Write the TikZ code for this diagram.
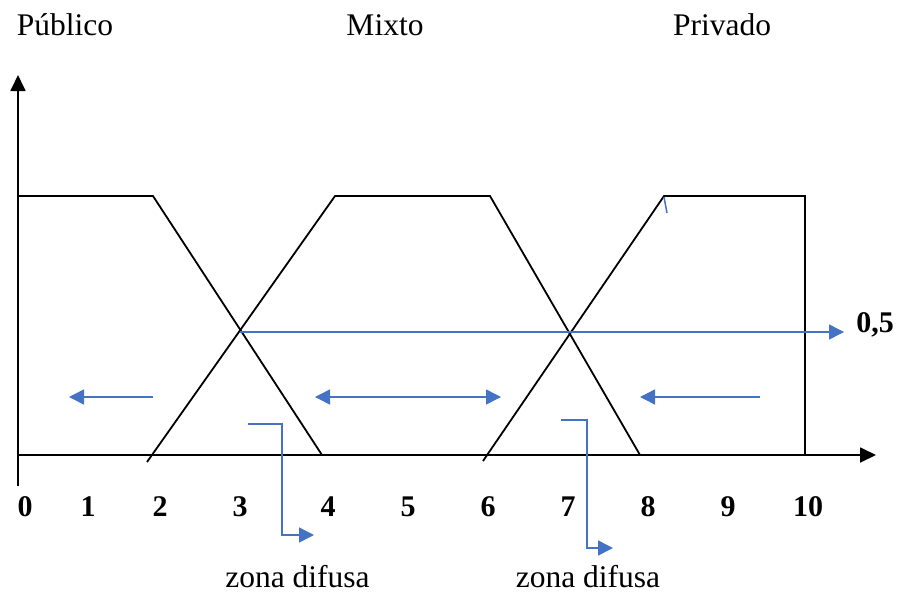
\documentclass[tikz,border=0pt]{standalone}
\usepackage{fontspec}
\setmainfont{Liberation Serif}
\usetikzlibrary{arrows.meta}
\definecolor{bl}{RGB}{68,114,196}
\tikzset{
  blk/.style={line width=1.8pt, black},
  blu/.style={line width=1.5pt, bl},
  btip/.style={-{Triangle[length=15pt,width=15pt]}},
  axtip/.style={-{Triangle[length=16pt,width=15pt]}},
  num/.style={font=\fontsize{30}{30}\selectfont\bfseries, inner sep=0pt, anchor=base},
  lab/.style={font=\fontsize{31.5}{32}\selectfont, inner sep=0pt, anchor=base},
}
\begin{document}
\begin{tikzpicture}[x=1pt,y=-1pt]
\useasboundingbox (0,0) rectangle (899,592);
% axes
\coordinate (o) at (18,455);
\coordinate (ybot) at (18,486);
\coordinate (ytop) at (18,75);
\coordinate (xend) at (876,455);
\draw[blk,axtip] (ybot) -- (ytop);
\draw[blk,axtip] (o) -- (xend);
% Publico
\coordinate (p1) at (18,196);
\coordinate (p2) at (153,196);
\coordinate (p3) at (322,455);
\draw[blk] (p1) -- (p2) -- (p3);
% Mixto
\coordinate (m1) at (147,462);
\coordinate (m2) at (335,196);
\coordinate (m3) at (490,196);
\coordinate (m4) at (640,455);
\draw[blk] (m1) -- (m2) -- (m3) -- (m4);
% Privado
\coordinate (r1) at (483,461);
\coordinate (r2) at (664,196);
\coordinate (r3) at (805,196);
\coordinate (r4) at (805,455);
\draw[blk] (r1) -- (r2) -- (r3) -- (r4);
\coordinate (t1) at (664,197);
\coordinate (t2) at (667,213);
\draw[blu] (t1) -- (t2);
% 0,5 line
\coordinate (h1) at (240,332);
\node[num] (half) at (875,332) {0,5};
\coordinate (h2) at (844,332);
\draw[blu,btip] (h1) -- (h2);
% arrows
\coordinate (a1) at (153,397); \coordinate (a2) at (69,397);
\draw[blu,btip] (a1) -- (a2);
\coordinate (b1) at (315,397); \coordinate (b2) at (501,397);
\draw[blu,{Triangle[length=15pt,width=15pt]}-{Triangle[length=15pt,width=15pt]}] (b1) -- (b2);
\coordinate (c1) at (760,397); \coordinate (c2) at (640,397);
\draw[blu,btip] (c1) -- (c2);
% zona difusa connectors
\coordinate (z1) at (248,424); \coordinate (z2) at (282,424);
\coordinate (z3) at (282,535); \coordinate (z4) at (314,535);
\draw[blu,btip] (z1) -- (z2) -- (z3) -- (z4);
\coordinate (w1) at (561,420); \coordinate (w2) at (587,420);
\coordinate (w3) at (587,548); \coordinate (w4) at (613,548);
\draw[blu,btip] (w1) -- (w2) -- (w3) -- (w4);
% numbers
\foreach \n/\x in {0/25,1/88,2/160,3/240,4/328,5/408,6/488,7/568,8/648,9/728,10/808}
  \node[num] (n\n) at (\x,516) {\n};
% labels
\node[lab] (pub) at (65,35) {Público};
\node[lab] (mix) at (385,35) {Mixto};
\node[lab] (pri) at (722,35) {Privado};
\node[lab] (zd1) at (297.5,587) {zona difusa};
\node[lab] (zd2) at (588,587) {zona difusa};
\end{tikzpicture}
\end{document}
